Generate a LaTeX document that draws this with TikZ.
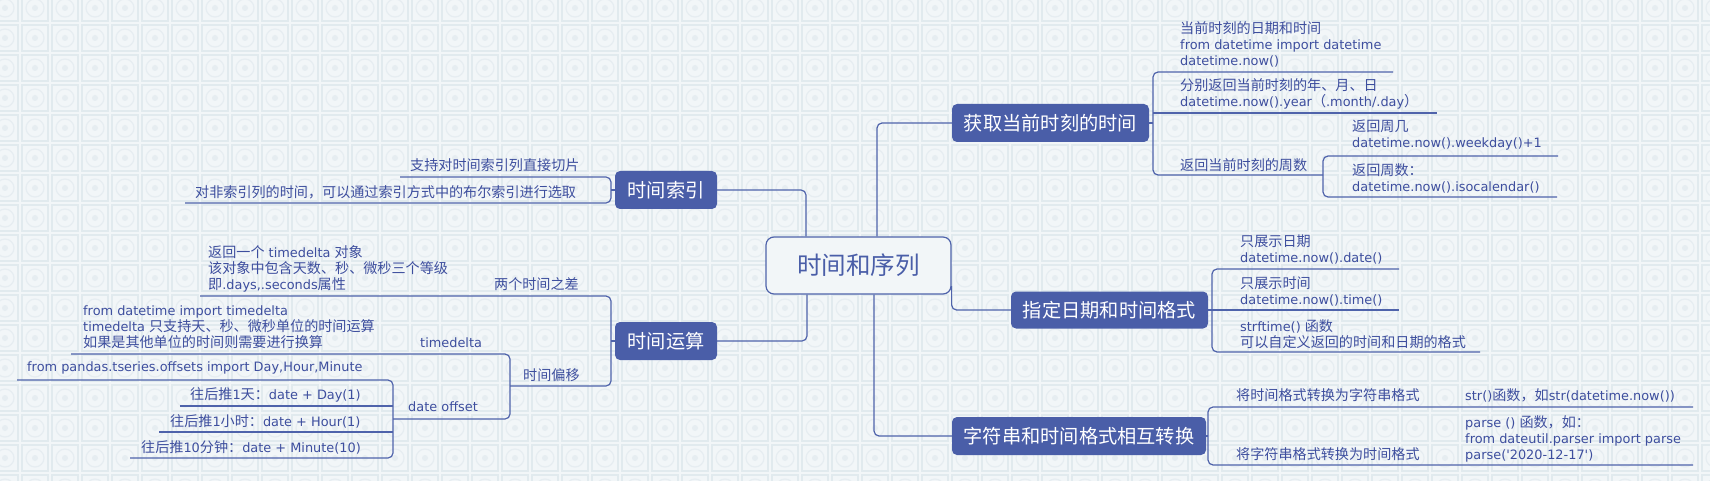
\documentclass[tikz,border=0pt]{standalone}
\usepackage{fontspec}
\setmainfont[Scale=0.955]{DejaVu Sans}
\newfontfamily\latinfont[Scale=0.955]{DejaVu Sans}
\newfontfamily\cjkfont[Scale=1.045]{Noto Sans CJK SC}
\newXeTeXintercharclass\cjkcls
\makeatletter
\count@="3000
\loop\XeTeXcharclass\count@=\cjkcls\relax\ifnum\count@<"303F\advance\count@\@ne\repeat
\count@="4E00
\loop\XeTeXcharclass\count@=\cjkcls\relax\ifnum\count@<"9FFF\advance\count@\@ne\repeat
\count@="FF00
\loop\XeTeXcharclass\count@=\cjkcls\relax\ifnum\count@<"FFEF\advance\count@\@ne\repeat
\makeatother
\XeTeXinterchartoks 0 \cjkcls = {\cjkfont}
\XeTeXinterchartoks 4095 \cjkcls = {\cjkfont}
\XeTeXinterchartoks \cjkcls 0 = {\latinfont}
\XeTeXinterchartoks \cjkcls 4095 = {\latinfont}
\XeTeXinterchartokenstate=1
\definecolor{tblue}{HTML}{4A5EA8}
\definecolor{lblue}{HTML}{4F63AB}
\definecolor{txt}{HTML}{3D4E9E}
\definecolor{bgc}{HTML}{F2F6F8}
\definecolor{tileln}{HTML}{E1EAEE}
\definecolor{tilec}{HTML}{E6EDF1}
\tikzset{
  topic/.style={fill=tblue, text=white, rounded corners=5pt, inner sep=0pt,
    font=\fontsize{18.4}{20}\selectfont, minimum height=38pt},
  central/.style={draw=lblue, line width=1.2pt, fill=bgc, text=tblue, rounded corners=8pt,
    inner sep=0pt, font=\fontsize{23.5}{26}\selectfont, minimum width=185pt, minimum height=57pt},
  lbl/.style={inner sep=0pt, text=txt, align=left, anchor=west, font=\fontsize{13.5}{16}\selectfont},
  conn/.style={draw=lblue, line width=1.2pt, rounded corners=5pt}
}
\begin{document}
\begin{tikzpicture}[x=1pt,y=-1pt]
\useasboundingbox (0,0) rectangle (1710,481);
% background tiles
\fill[bgc] (0,0) rectangle (1710,481);
\foreach \i in {-1,...,56} \foreach \j in {-1,...,15} {
  \draw[tileln, line width=1.4pt] (\i*30+22,\j*30+25) rectangle (\i*30+48,\j*30+51);
  \draw[tilec, line width=1.2pt] (\i*30+35,\j*30+38) circle (9pt);
  \fill[tilec] (\i*30+35,\j*30+38) circle (3pt);
}

% main nodes
\node[central] (c) at (858.5,265.5) {时间和序列};
\node[topic, minimum width=197pt] (t1) at (1050.5,123) {获取当前时刻的时间};
\node[topic, minimum width=102pt] (t2) at (666,190) {时间索引};
\node[topic, minimum width=102pt] (t3) at (666,341) {时间运算};
\node[topic, minimum width=197pt, minimum height=37pt] (t4) at (1109.5,310) {指定日期和时间格式};
\node[topic, minimum width=254pt] (t5) at (1079,436) {字符串和时间格式相互转换};

% main connectors
\draw[conn] ([xshift=18.5pt]c.north) |- (t1.west);
\draw[conn] ([xshift=-52.5pt]c.north) |- (t2.east);
\draw[conn] ([xshift=-51.5pt]c.south) |- (t3.east);
\draw[conn] ([yshift=-20.5pt]c.east) |- (t4.west);
\draw[conn] ([xshift=15.5pt]c.south) |- (t5.west);

% ---- T1 branch
\coordinate (b1) at (1153,123);
\coordinate (a1e) at (1393,72);
\coordinate (a2e) at (1437,113);
\coordinate (a3e) at (1323,175);
\coordinate (c1e) at (1558,156);
\coordinate (c2e) at (1557,197);
\draw[conn] (t1.east) -- (b1);
\draw[conn] (a1e) -| (b1) |- (a3e);
\draw[conn] (b1 |- a2e) -- (a2e);
\draw[conn] (c1e) -| (a3e) |- (c2e);
\node[lbl] (n11) at (1180,44) {当前时刻的日期和时间\\from datetime import datetime\\datetime.now()};
\node[lbl] (n12) at (1180,93.5) {分别返回当前时刻的年、月、日\\datetime.now().year（.month/.day）};
\node[lbl] (n13) at (1180,165) {返回当前时刻的周数};
\node[lbl] (n131) at (1352,135.5) {返回周几\\datetime.now().weekday()+1};
\node[lbl] (n132) at (1352,178) {返回周数：\\datetime.now().isocalendar()};

% ---- T2 branch
\coordinate (b2) at (611,190);
\coordinate (d1) at (400,177);
\coordinate (d2) at (185,203);
\draw[conn] (t2.west) -- (b2);
\draw[conn] (d1) -| (b2) |- (d2);
\node[lbl] (n21) at (410,165) {支持对时间索引列直接切片};
\node[lbl] (n22) at (195,192) {对非索引列的时间，可以通过索引方式中的布尔索引进行选取};

% ---- T3 branch
\coordinate (b3) at (611,341);
\coordinate (e1) at (200,296);
\coordinate (g) at (510,386);
\coordinate (h1) at (71,354);
\coordinate (i) at (393,419);
\coordinate (j1) at (17,380);
\coordinate (j2) at (180,406);
\coordinate (j3) at (159,432);
\coordinate (j4) at (130,458);
\draw[conn] (t3.west) -- (b3);
\draw[conn] (e1) -| (b3) |- (g);
\draw[conn] (h1) -| (g) |- (i);
\draw[conn] (j1) -| (i) |- (j4);
\draw[conn] (i |- j2) -- (j2);
\draw[conn] (i |- j3) -- (j3);
\node[lbl, anchor=east] (n31) at (579,284) {两个时间之差};
\node[lbl] (n311) at (208,269) {返回一个 timedelta 对象\\该对象中包含天数、秒、微秒三个等级\\即.days,.seconds属性};
\node[lbl] (n32) at (523,375) {时间偏移};
\node[lbl] (n321) at (420,343) {timedelta};
\node[lbl] (n3211) at (83,327) {from datetime import timedelta\\timedelta 只支持天、秒、微秒单位的时间运算\\如果是其他单位的时间则需要进行换算};
\node[lbl] (n322) at (408,407) {date offset};
\node[lbl] (n3221) at (27,368) {from pandas.tseries.offsets import Day,Hour,Minute};
\node[lbl] (n3222) at (190,395) {往后推1天：date + Day(1)};
\node[lbl] (n3223) at (170,421) {往后推1小时：date + Hour(1)};
\node[lbl] (n3224) at (141,447) {往后推10分钟：date + Minute(10)};

% ---- T4 branch
\coordinate (b4) at (1212,310);
\coordinate (k1) at (1399,269);
\coordinate (k2) at (1399,310);
\coordinate (k3) at (1480,352);
\draw[conn] (t4.east) -- (b4);
\draw[conn] (k1) -| (b4) |- (k3);
\draw[conn] (b4) -- (k2);
\node[lbl] (n41) at (1240,249.5) {只展示日期\\datetime.now().date()};
\node[lbl] (n42) at (1240,291) {只展示时间\\datetime.now().time()};
\node[lbl] (n43) at (1240,334) {strftime() 函数\\可以自定义返回的时间和日期的格式};

% ---- T5 branch
\coordinate (b5) at (1208,436);
\coordinate (m1) at (1693,407);
\coordinate (m2) at (1693,465);
\draw[conn] (t5.east) -- (b5);
\draw[conn] (m1) -| (b5) |- (m2);
\node[lbl] (n51) at (1236,395) {将时间格式转换为字符串格式};
\node[lbl] (n511) at (1465,395) {str()函数，如str(datetime.now())};
\node[lbl] (n52) at (1236,454) {将字符串格式转换为时间格式};
\node[lbl] (n521) at (1465,438.5) {parse () 函数，如：\\from dateutil.parser import parse\\parse(\textquotesingle2020-12-17\textquotesingle)};
\end{tikzpicture}
\end{document}
